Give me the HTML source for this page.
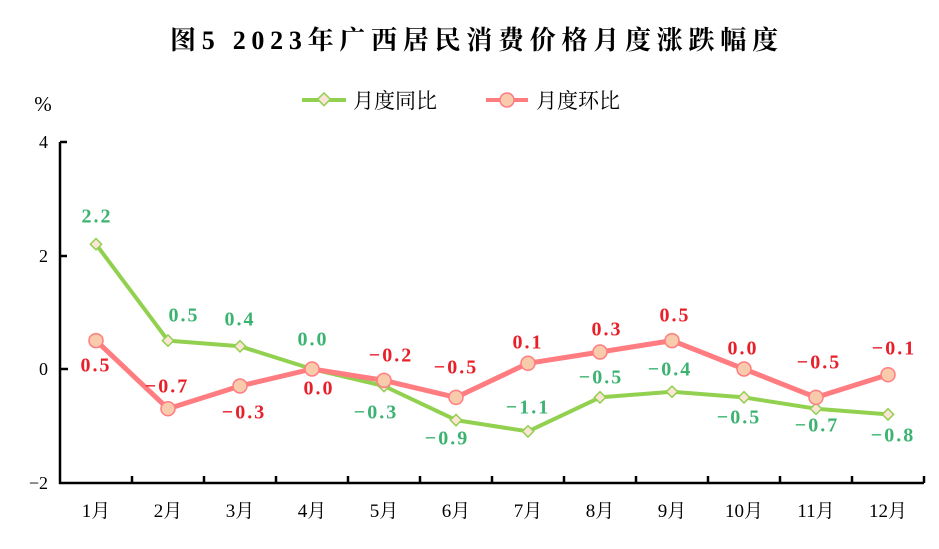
<!DOCTYPE html>
<html><head><meta charset="utf-8"><style>
body{margin:0;background:#fff}
text{font-family:"Liberation Serif","Noto Serif CJK SC",serif}
</style></head><body>
<svg width="939" height="544" viewBox="0 0 939 544" xmlns="http://www.w3.org/2000/svg">
<text x="170" y="49" textLength="608" lengthAdjust="spacing" font-size="26" font-weight="bold" fill="#000">图5 2023年广西居民消费价格月度涨跌幅度</text>
<text x="43" y="111" text-anchor="middle" font-size="21" fill="#000">%</text>
<g font-size="18" fill="#000" text-anchor="end">
<text x="48" y="148">4</text><text x="48" y="262">2</text><text x="48" y="375">0</text><text x="48" y="489">−2</text>
</g>
<g stroke="#000" stroke-width="2.5" fill="none">
<line x1="60" y1="142" x2="60" y2="484"/>
<line x1="59" y1="483" x2="924" y2="483"/>
<line x1="60" y1="142" x2="67" y2="142"/><line x1="60" y1="256" x2="67" y2="256"/><line x1="60" y1="369" x2="68" y2="369"/>
<line x1="132" y1="483" x2="132" y2="476"/><line x1="204" y1="483" x2="204" y2="476"/><line x1="276" y1="483" x2="276" y2="476"/><line x1="348" y1="483" x2="348" y2="476"/><line x1="420" y1="483" x2="420" y2="476"/><line x1="492" y1="483" x2="492" y2="476"/><line x1="564" y1="483" x2="564" y2="476"/><line x1="636" y1="483" x2="636" y2="476"/><line x1="708" y1="483" x2="708" y2="476"/><line x1="780" y1="483" x2="780" y2="476"/><line x1="852" y1="483" x2="852" y2="476"/><line x1="924" y1="483" x2="924" y2="476"/>
</g>
<g font-size="19" fill="#000" text-anchor="middle">
<text x="96" y="517">1月</text><text x="168" y="517">2月</text><text x="240" y="517">3月</text><text x="312" y="517">4月</text><text x="384" y="517">5月</text><text x="456" y="517">6月</text><text x="528" y="517">7月</text><text x="600" y="517">8月</text><text x="672" y="517">9月</text><text x="744" y="517">10月</text><text x="816" y="517">11月</text><text x="888" y="517">12月</text>
</g>
<!-- legend -->
<line x1="302" y1="100" x2="346" y2="100" stroke="#92d050" stroke-width="4"/>
<rect x="319" y="95" width="9" height="9" transform="rotate(45 324 100)" fill="#fce4d6" stroke="#92d050" stroke-width="1.5"/>
<text x="353" y="108" font-size="21" fill="#000">月度同比</text>
<line x1="486" y1="100" x2="528" y2="100" stroke="#ff7c80" stroke-width="4"/>
<circle cx="507" cy="100" r="7" fill="#f8cbad" stroke="#ff7c80" stroke-width="1.5"/>
<text x="536" y="108" font-size="21" fill="#000">月度环比</text>
<!-- green series -->
<polyline fill="none" stroke="#92d050" stroke-width="4" stroke-linejoin="round" points="96,244.2 168,340.6 240,346.3 312,369 384,386 456,420.1 528,431.4 600,397.4 672,391.7 744,397.4 816,408.7 888,414.4"/>
<g fill="#fce4d6" stroke="#92d050" stroke-width="1.5">
<rect x="92" y="240.2" width="8" height="8" transform="rotate(45 96 244.2)"/>
<rect x="164" y="336.6" width="8" height="8" transform="rotate(45 168 340.6)"/>
<rect x="236" y="342.3" width="8" height="8" transform="rotate(45 240 346.3)"/>
<rect x="308" y="365" width="8" height="8" transform="rotate(45 312 369)"/>
<rect x="380" y="382" width="8" height="8" transform="rotate(45 384 386)"/>
<rect x="452" y="416.1" width="8" height="8" transform="rotate(45 456 420.1)"/>
<rect x="524" y="427.4" width="8" height="8" transform="rotate(45 528 431.4)"/>
<rect x="596" y="393.4" width="8" height="8" transform="rotate(45 600 397.4)"/>
<rect x="668" y="387.7" width="8" height="8" transform="rotate(45 672 391.7)"/>
<rect x="740" y="393.4" width="8" height="8" transform="rotate(45 744 397.4)"/>
<rect x="812" y="404.7" width="8" height="8" transform="rotate(45 816 408.7)"/>
<rect x="884" y="410.4" width="8" height="8" transform="rotate(45 888 414.4)"/>
</g>
<!-- red series -->
<polyline fill="none" stroke="#ff7c80" stroke-width="5" stroke-linejoin="round" points="96,340.6 168,408.7 240,386 312,369 384,380.4 456,397.4 528,363.3 600,352 672,340.6 744,369 816,397.4 888,374.7"/>
<g fill="#f8cbad" stroke="#ff7c80" stroke-width="1.5">
<circle cx="96" cy="340.6" r="7"/><circle cx="168" cy="408.7" r="7"/><circle cx="240" cy="386" r="7"/><circle cx="312" cy="369" r="7"/><circle cx="384" cy="380.4" r="7"/><circle cx="456" cy="397.4" r="7"/><circle cx="528" cy="363.3" r="7"/><circle cx="600" cy="352" r="7"/><circle cx="672" cy="340.6" r="7"/><circle cx="744" cy="369" r="7"/><circle cx="816" cy="397.4" r="7"/><circle cx="888" cy="374.7" r="7"/>
</g>
<g font-size="20" font-weight="bold" fill="#3cb371" text-anchor="middle" dominant-baseline="middle" letter-spacing="2">
<text x="97" y="218">2.2</text><text x="184" y="317">0.5</text><text x="240" y="321">0.4</text><text x="313" y="341">0.0</text><text x="376" y="414">−0.3</text><text x="447" y="440">−0.9</text><text x="528" y="409">−1.1</text><text x="601" y="379">−0.5</text><text x="670" y="371">−0.4</text><text x="739" y="419">−0.5</text><text x="817" y="427">−0.7</text><text x="893" y="437">−0.8</text>
</g>
<g font-size="20" font-weight="bold" fill="#e8202a" text-anchor="middle" dominant-baseline="middle" letter-spacing="2">
<text x="96" y="367">0.5</text><text x="167" y="388">−0.7</text><text x="244" y="414">−0.3</text><text x="319" y="390">0.0</text><text x="391" y="357">−0.2</text><text x="456" y="369">−0.5</text><text x="528" y="344">0.1</text><text x="607" y="331">0.3</text><text x="675" y="317">0.5</text><text x="743" y="350">0.0</text><text x="819" y="364">−0.5</text><text x="894" y="350">−0.1</text>
</g>
</svg>
</body></html>
